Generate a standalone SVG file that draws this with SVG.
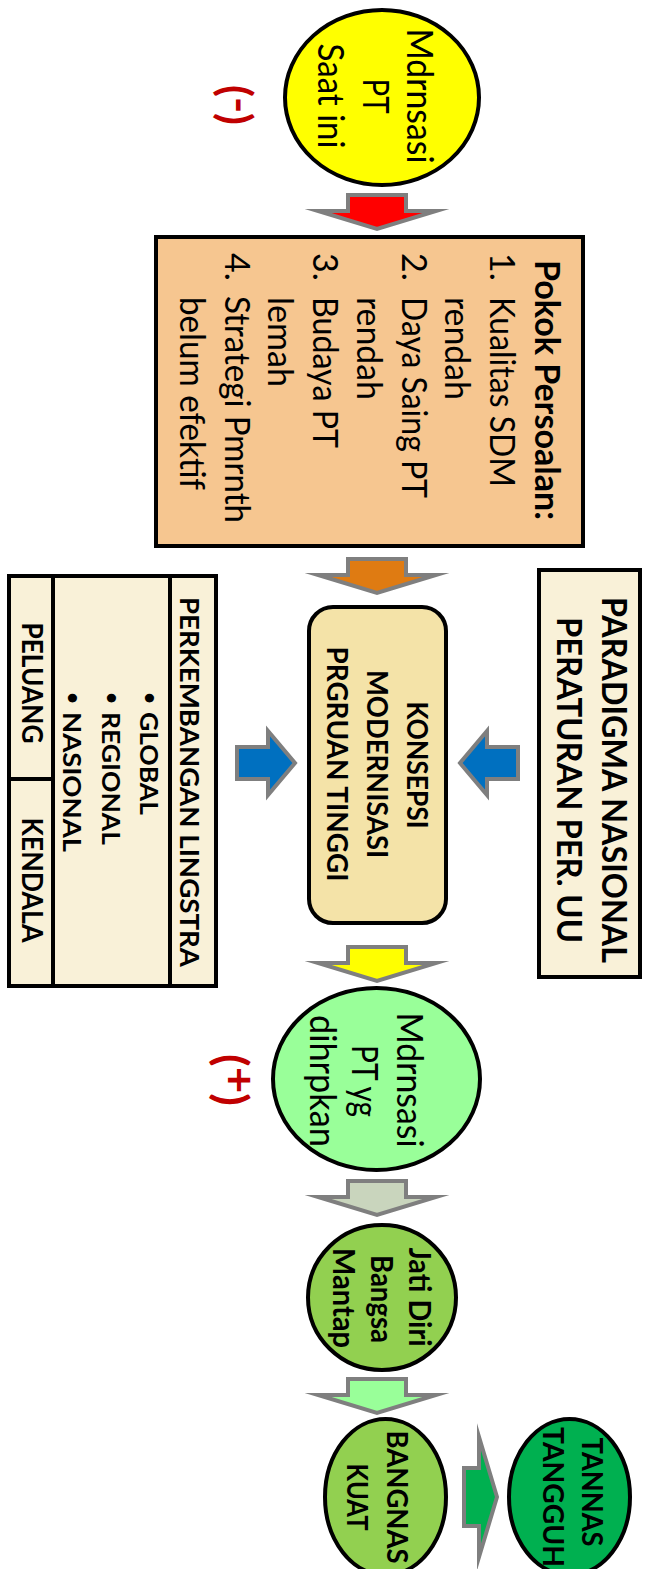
<svg xmlns="http://www.w3.org/2000/svg" width="645" height="1569" viewBox="0 0 645 1569">
<style>
text { font-family: Lato, "Open Sans", "Liberation Sans", sans-serif; fill: #000; }
.r35 { font-size: 36px; }
.r33 { font-size: 34px; }
.b { font-weight: bold; }
.arrow { stroke: #7f7f7f; stroke-width: 4; stroke-miterlimit: 20; stroke-linejoin: miter; }
.node { stroke: #000; stroke-width: 4; }
.line { stroke: #000; stroke-width: 4; fill: none; }
.sym { fill: #c00000; font-weight: bold; font-size: 44px; }
</style>
<defs>
<path id="darrow" d="M-29,0 H29 V16 H59 L0,34 L-59,16 H-29 Z"/>
</defs>
<rect width="645" height="1569" fill="#fff"/>

<g id="connectors">
<use href="#darrow" transform="translate(377,195)" fill="#ff0000" class="arrow"/>
<use href="#darrow" transform="translate(377,559)" fill="#df7b12" class="arrow"/>
<use href="#darrow" transform="translate(377,947)" fill="#ffff00" class="arrow"/>
<use href="#darrow" transform="translate(377,1181)" fill="#c9d5bd" class="arrow"/>
<use href="#darrow" transform="translate(377,1379)" fill="#99ff99" class="arrow"/>
<path class="arrow" fill="#0070c0" d="M237,747 H268 V731 L295,763 L268,795 V779 H237 Z"/>
<path class="arrow" fill="#0070c0" d="M518,747 H487 V731 L460,763 L487,795 V779 H518 Z"/>
<path class="arrow" fill="#00b050" d="M464,1468 H479 V1437 L497,1497 L479,1557 V1526 H464 Z"/>
</g>

<g id="node-saat-ini">
<ellipse class="node" cx="382" cy="97.5" rx="97" ry="87.5" fill="#ffff00"/>
<text class="r35" text-anchor="middle" transform="translate(407,96) rotate(90)" textLength="135" lengthAdjust="spacingAndGlyphs">Mdrnsasi</text>
<text class="r35" text-anchor="middle" transform="translate(363,96) rotate(90)" textLength="35" lengthAdjust="spacingAndGlyphs">PT</text>
<text class="r35" text-anchor="middle" transform="translate(318,96) rotate(90)" textLength="105" lengthAdjust="spacingAndGlyphs">Saat ini</text>
</g>

<g id="sym-minus">
<text class="sym" text-anchor="middle" transform="translate(220,105) rotate(90)" textLength="40" lengthAdjust="spacingAndGlyphs">(<tspan dy="-5">-</tspan><tspan dy="5">)</tspan></text>
</g>

<g id="node-pokok">
<rect class="node" x="156" y="237" width="427" height="309" fill="#f6c690"/>
<text class="r33 b" transform="translate(535,260) rotate(90)" textLength="260" lengthAdjust="spacingAndGlyphs">Pokok Persoalan:</text>
<text class="r33" transform="translate(490,253) rotate(90)">1.</text>
<text class="r33" transform="translate(490,297) rotate(90)" textLength="190" lengthAdjust="spacingAndGlyphs">Kualitas SDM</text>
<text class="r33" transform="translate(445,297) rotate(90)" textLength="103" lengthAdjust="spacingAndGlyphs">rendah</text>
<text class="r33" transform="translate(402,253) rotate(90)">2.</text>
<text class="r33" transform="translate(402,297) rotate(90)" textLength="201" lengthAdjust="spacingAndGlyphs">Daya Saing PT</text>
<text class="r33" transform="translate(357,297) rotate(90)" textLength="103" lengthAdjust="spacingAndGlyphs">rendah</text>
<text class="r33" transform="translate(313,253) rotate(90)">3.</text>
<text class="r33" transform="translate(313,297) rotate(90)" textLength="151" lengthAdjust="spacingAndGlyphs">Budaya PT</text>
<text class="r33" transform="translate(268,297) rotate(90)" textLength="90" lengthAdjust="spacingAndGlyphs">lemah</text>
<text class="r33" transform="translate(225,253) rotate(90)">4.</text>
<text class="r33" transform="translate(225,296) rotate(90)" textLength="227" lengthAdjust="spacingAndGlyphs">Strategi Pmrnth</text>
<text class="r33" transform="translate(180,297) rotate(90)" textLength="193" lengthAdjust="spacingAndGlyphs">belum efektif</text>
</g>

<g id="node-paradigma">
<rect class="node" x="539" y="570" width="101" height="407" fill="#f9f1d8"/>
<text class="b" font-size="34" text-anchor="middle" transform="translate(602,780) rotate(90)" textLength="366" lengthAdjust="spacingAndGlyphs">PARADIGMA NASIONAL</text>
<text class="b" font-size="34" text-anchor="middle" transform="translate(557,780) rotate(90)" textLength="326" lengthAdjust="spacingAndGlyphs">PERATURAN PER. UU</text>
</g>

<g id="node-konsepsi">
<rect class="node" x="309" y="607" width="137" height="316" rx="24" ry="24" fill="#f4e3a8"/>
<text class="b" font-size="28" text-anchor="middle" transform="translate(407,765) rotate(90)" textLength="127" lengthAdjust="spacingAndGlyphs">KONSEPSI</text>
<text class="b" font-size="28" text-anchor="middle" transform="translate(367,764) rotate(90)" textLength="188" lengthAdjust="spacingAndGlyphs">MODERNISASI</text>
<text class="b" font-size="28" text-anchor="middle" transform="translate(327,764) rotate(90)" textLength="235" lengthAdjust="spacingAndGlyphs">PRGRUAN TINGGI</text>
</g>

<g id="node-lingstra">
<rect class="node" x="9" y="576" width="207" height="410" fill="#f9f1d8"/>
<line class="line" x1="170" y1="576" x2="170" y2="986"/>
<line class="line" x1="53" y1="576" x2="53" y2="986"/>
<line class="line" x1="9" y1="779" x2="53" y2="779"/>
<text class="b" font-size="27" transform="translate(180,597) rotate(90)" textLength="370" lengthAdjust="spacingAndGlyphs">PERKEMBANGAN LINGSTRA</text>
<text class="b" font-size="20" text-anchor="middle" transform="translate(143,698) rotate(90)">•</text>
<text class="b" font-size="25" transform="translate(140,712) rotate(90)" textLength="103" lengthAdjust="spacingAndGlyphs">GLOBAL</text>
<text class="b" font-size="20" text-anchor="middle" transform="translate(105,698) rotate(90)">•</text>
<text class="b" font-size="25" transform="translate(102,712) rotate(90)" textLength="133" lengthAdjust="spacingAndGlyphs">REGIONAL</text>
<text class="b" font-size="20" text-anchor="middle" transform="translate(66,698) rotate(90)">•</text>
<text class="b" font-size="25" transform="translate(63,712) rotate(90)" textLength="140" lengthAdjust="spacingAndGlyphs">NASIONAL</text>
<text class="b" font-size="29" text-anchor="middle" transform="translate(22,683) rotate(90)" textLength="121" lengthAdjust="spacingAndGlyphs">PELUANG</text>
<text class="b" font-size="29" text-anchor="middle" transform="translate(22,880) rotate(90)" textLength="125" lengthAdjust="spacingAndGlyphs">KENDALA</text>
</g>

<g id="node-diharapkan">
<ellipse class="node" cx="376.5" cy="1079" rx="103.5" ry="91" fill="#99ff99"/>
<text class="r35" text-anchor="middle" transform="translate(397,1080) rotate(90)" textLength="135" lengthAdjust="spacingAndGlyphs">Mdrnsasi</text>
<text class="r35" text-anchor="middle" transform="translate(352,1081) rotate(90)" textLength="72" lengthAdjust="spacingAndGlyphs">PT yg</text>
<text class="r35" text-anchor="middle" transform="translate(310,1081) rotate(90)" textLength="132" lengthAdjust="spacingAndGlyphs">dihrpkan</text>
</g>

<g id="sym-plus">
<text class="sym" text-anchor="middle" transform="translate(216,1080) rotate(90)" textLength="52" lengthAdjust="spacingAndGlyphs">(<tspan dy="-8">+</tspan><tspan dy="8">)</tspan></text>
</g>

<g id="node-jatidiri">
<ellipse class="node" cx="382" cy="1297.5" rx="74" ry="72.5" fill="#92d050"/>
<text class="b" font-size="30" text-anchor="middle" transform="translate(409,1297) rotate(90)" textLength="99" lengthAdjust="spacingAndGlyphs">Jati Diri</text>
<text class="b" font-size="30" text-anchor="middle" transform="translate(371,1299) rotate(90)" textLength="88" lengthAdjust="spacingAndGlyphs">Bangsa</text>
<text class="b" font-size="30" text-anchor="middle" transform="translate(333,1298) rotate(90)" textLength="100" lengthAdjust="spacingAndGlyphs">Mantap</text>
</g>

<g id="node-bangnas">
<ellipse class="node" cx="385.5" cy="1497" rx="60.5" ry="78" fill="#92d050"/>
<text class="b" font-size="29" text-anchor="middle" transform="translate(387,1497) rotate(90)" textLength="133" lengthAdjust="spacingAndGlyphs">BANGNAS</text>
<text class="b" font-size="29" text-anchor="middle" transform="translate(347,1497) rotate(90)" textLength="67" lengthAdjust="spacingAndGlyphs">KUAT</text>
</g>

<g id="node-tannas">
<ellipse class="node" cx="569.5" cy="1497" rx="60.5" ry="78" fill="#00b050"/>
<text class="b" font-size="29" text-anchor="middle" transform="translate(582,1492) rotate(90)" textLength="109" lengthAdjust="spacingAndGlyphs">TANNAS</text>
<text class="b" font-size="29" text-anchor="middle" transform="translate(543,1497) rotate(90)" textLength="140" lengthAdjust="spacingAndGlyphs">TANGGUH</text>
</g>
</svg>
